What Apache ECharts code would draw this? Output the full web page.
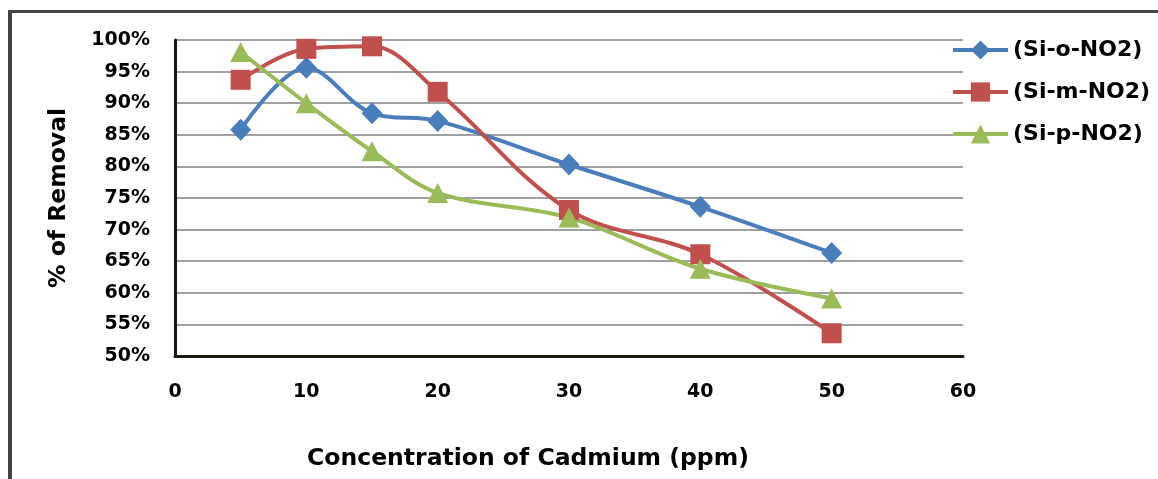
<!DOCTYPE html>
<html>
<head>
<meta charset="utf-8">
<script src="https://cdn.jsdelivr.net/npm/echarts@6/dist/echarts.min.js"></script>
<style>
html,body{margin:0;padding:0;background:#fff;}
#c{width:1158px;height:479px;}
</style>
</head>
<body>
<div id="c"></div>
<script>
var concentrations = [5, 10, 15, 20, 30, 40, 50];
var siO = [85.8, 95.6, 88.4, 87.2, 80.3, 73.6, 66.3];
var siM = [93.7, 98.6, 99.0, 91.8, 73.1, 66.1, 53.6];
var siP = [98.1, 90.0, 82.4, 75.8, 71.9, 63.8, 59.1];
var seriesNames = ['(Si-o-NO2)', '(Si-m-NO2)', '(Si-p-NO2)'];
var xTicks = [0, 10, 20, 30, 40, 50, 60];
var yTicks = [50, 55, 60, 65, 70, 75, 80, 85, 90, 95, 100];

function pairs(vals) {
  return concentrations.map(function (x, i) { return [x, vals[i]]; });
}

var FONT = '"DejaVu Sans", sans-serif';
var SMOOTH = 0.35;
var chart = echarts.init(document.getElementById('c'), null, {renderer: 'canvas'});
chart.setOption({
  animation: false,
  backgroundColor: '#fff',
  grid: {left: 175, right: 195, top: 40, bottom: 123, containLabel: false, outerBoundsMode: 'none'},
  legend: {
    orient: 'vertical',
    left: 951,
    top: 39,
    padding: 0,
    itemWidth: 55,
    itemHeight: 24,
    itemGap: 20,
    lineStyle: {width: 4},
    textStyle: {fontFamily: FONT, fontWeight: 'bold', fontSize: 22, color: '#000'},
    data: seriesNames
  },
  xAxis: {
    type: 'value',
    min: xTicks[0],
    max: xTicks[xTicks.length - 1],
    interval: 10,
    splitLine: {show: false},
    axisTick: {show: false},
    axisLine: {show: true, onZero: false, lineStyle: {color: '#1a1710', width: 3}},
    axisLabel: {margin: 27, fontFamily: FONT, fontWeight: 'bold', fontSize: 19, color: '#000'},
    name: 'Concentration of Cadmium (ppm)',
    nameLocation: 'middle',
    nameGap: 91,
    nameTextStyle: {fontFamily: FONT, fontWeight: 'bold', fontSize: 23.5, color: '#000', padding: [0, 82, 0, 0]}
  },
  yAxis: {
    type: 'value',
    min: yTicks[0],
    max: yTicks[yTicks.length - 1],
    interval: 5,
    axisTick: {show: false},
    axisLine: {show: true, lineStyle: {color: '#1a1710', width: 3}},
    splitLine: {show: true, lineStyle: {color: '#a0a0a0', width: 2}},
    axisLabel: {margin: 25, fontFamily: FONT, fontWeight: 'bold', fontSize: 19, color: '#000', formatter: '{value}%'},
    name: '% of Removal',
    nameLocation: 'middle',
    nameGap: 104,
    nameRotate: 90,
    nameTextStyle: {fontFamily: FONT, fontWeight: 'bold', fontSize: 23.5, color: '#000'}
  },
  graphic: [
    {type: 'rect', left: 8, top: 10, shape: {width: 1150, height: 3}, style: {fill: '#444'}, silent: true},
    {type: 'rect', left: 8, top: 10, shape: {width: 4, height: 469}, style: {fill: '#444'}, silent: true}
  ],
  series: [
    {name: seriesNames[0], type: 'line', smooth: SMOOTH, data: pairs(siO), symbol: 'diamond', symbolSize: [21, 22],
     lineStyle: {width: 4, color: '#4a7ebb'}, itemStyle: {color: '#4a7ebb'}},
    {name: seriesNames[1], type: 'line', smooth: SMOOTH, data: pairs(siM), symbol: 'rect', symbolSize: 20,
     lineStyle: {width: 4, color: '#c0504d'}, itemStyle: {color: '#c0504d'}},
    {name: seriesNames[2], type: 'line', smooth: SMOOTH, data: pairs(siP), symbol: 'triangle', symbolSize: [21, 20],
     lineStyle: {width: 4, color: '#9bbb59'}, itemStyle: {color: '#9bbb59'}}
  ]
});
</script>
</body>
</html>
